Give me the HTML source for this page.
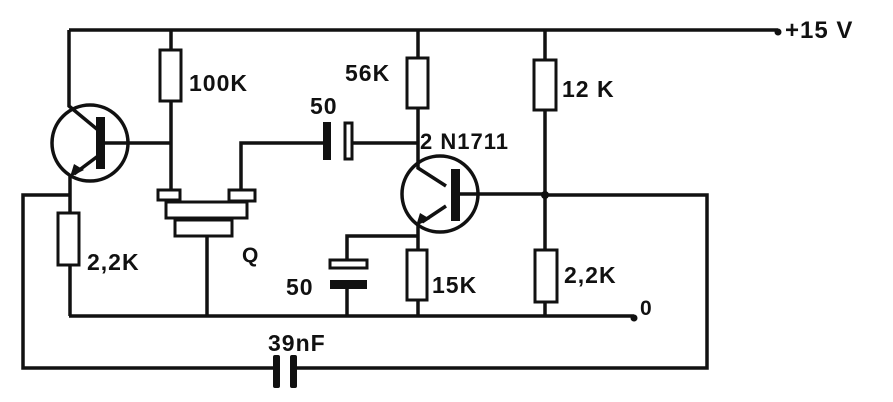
<!DOCTYPE html>
<html><head><style>
html,body{margin:0;padding:0;background:#fff;}
svg{display:block;}
text{font-family:"Liberation Sans",sans-serif;font-weight:bold;fill:#111;letter-spacing:1px;}
</style></head><body>
<svg width="893" height="402" viewBox="0 0 893 402" xmlns="http://www.w3.org/2000/svg">
<g stroke="#111" stroke-width="3.5" fill="none">
<path d="M69 30 H778"/>
<path d="M69 30 V106 L98 130"/>
<circle cx="90" cy="143" r="38"/>
<path d="M105 143 H171"/>
<path d="M98 156 L74 174 M70 176 V213"/>
<path d="M70 265 V316"/>
<rect x="58" y="213" width="21" height="52" stroke-width="3"/>
<path d="M70 195 H23 V368 H274"/>
<path d="M297 368 H707 V195 H545"/>
<path d="M171 30 V50 M171 101 V191"/>
<rect x="160" y="50" width="21" height="51" stroke-width="3"/>
<rect x="158" y="190" width="22" height="10" stroke-width="3"/>
<rect x="229" y="190" width="26" height="11" stroke-width="3"/>
<rect x="166" y="202" width="81" height="16" stroke-width="3"/>
<rect x="175" y="220" width="57" height="16" stroke-width="3"/>
<path d="M207 236 V316"/>
<path d="M241 190 V143 H323"/>
<rect x="345" y="123" width="7" height="36" stroke-width="3"/>
<path d="M353 143 H418"/>
<path d="M418 30 V58 M418 108 V168 L446 186"/>
<rect x="407" y="58" width="21" height="50" stroke-width="3"/>
<circle cx="440" cy="194" r="38"/>
<path d="M455 194 H545"/>
<path d="M446 206 L422 222 M418 224 V250 M418 300 V316"/>
<rect x="407" y="250" width="20" height="50" stroke-width="3"/>
<path d="M418 236 H347 V261 M347 289 V316"/>
<rect x="330" y="260" width="37" height="8" stroke-width="3"/>
<path d="M545 30 V60 M545 110 V250 M545 302 V316"/>
<rect x="534" y="60" width="22" height="50" stroke-width="3"/>
<rect x="535" y="250" width="22" height="52" stroke-width="3"/>
<path d="M69 316 H634"/>
</g>
<g fill="#111">
<rect x="96" y="117" width="9" height="52"/>
<rect x="451" y="169" width="9" height="52"/>
<polygon points="70,177 74,164 84,170"/>
<polygon points="416,226 420,213 430,219"/>
<rect x="323" y="122" width="8" height="38"/>
<rect x="330" y="280" width="37" height="9"/>
<rect x="273" y="355" width="7" height="33" rx="2"/>
<rect x="290" y="355" width="7" height="33" rx="2"/>
<circle cx="778" cy="32" r="3.5"/>
<circle cx="634" cy="318" r="3.5"/>
<circle cx="545" cy="195" r="4"/>
</g>
<text x="189" y="91" font-size="23">100K</text>
<text x="310" y="114" font-size="23">50</text>
<text x="345" y="81" font-size="23">56K</text>
<text x="562" y="97" font-size="23">12 K</text>
<text x="420" y="149" font-size="22">2 N1711</text>
<text x="785" y="38" font-size="24">+15 V</text>
<text x="87" y="270" font-size="23">2,2K</text>
<text x="242" y="262" font-size="21">Q</text>
<text x="286" y="295" font-size="23">50</text>
<text x="432" y="293" font-size="23">15K</text>
<text x="564" y="283" font-size="23">2,2K</text>
<text x="640" y="315" font-size="21">0</text>
<text x="268" y="351" font-size="23">39nF</text>
</svg>
</body></html>
